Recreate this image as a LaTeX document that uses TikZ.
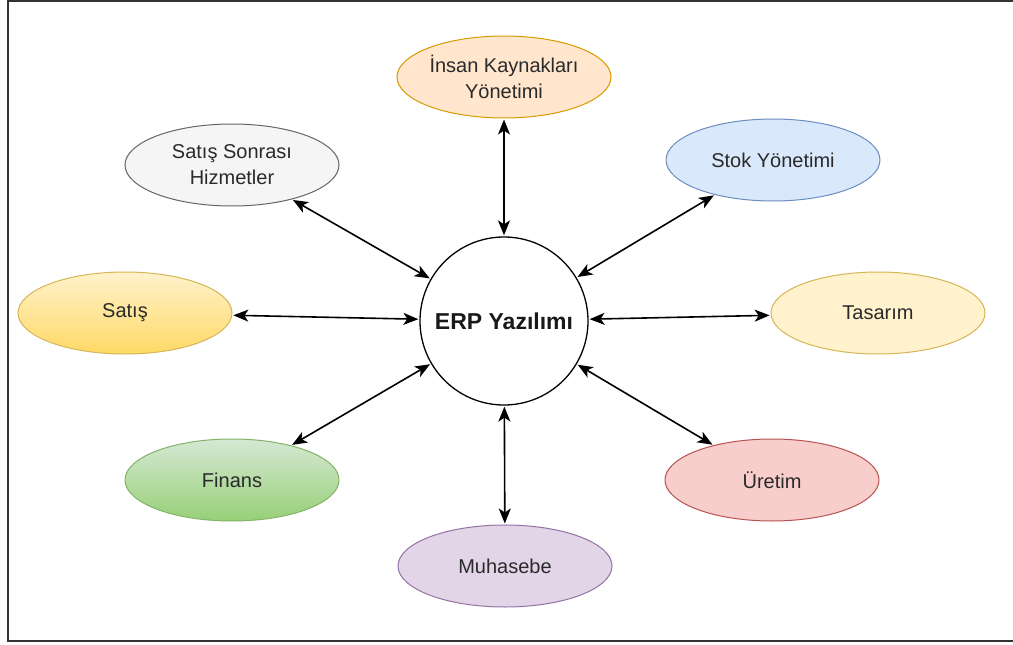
\documentclass[tikz,border=0pt]{standalone}
\usepackage{fontspec}
\setmainfont{Liberation Sans}
\usetikzlibrary{arrows.meta,shapes.geometric}
\definecolor{txt}{HTML}{2A2A2A}
\definecolor{ikF}{HTML}{FFE6CC}\definecolor{ikD}{HTML}{D79B00}
\definecolor{ssF}{HTML}{F5F5F5}\definecolor{ssD}{HTML}{666666}
\definecolor{stF}{HTML}{DAE8FC}\definecolor{stD}{HTML}{6C8EBF}
\definecolor{yeF}{HTML}{FFF2CC}\definecolor{yeB}{HTML}{FFD966}\definecolor{yeD}{HTML}{D6B656}
\definecolor{grF}{HTML}{D5E8D4}\definecolor{grB}{HTML}{97D077}\definecolor{grD}{HTML}{82B366}
\definecolor{reF}{HTML}{F8CECC}\definecolor{reD}{HTML}{B85450}
\definecolor{puF}{HTML}{E1D5E7}\definecolor{puD}{HTML}{9673A6}
\begin{document}
\begin{tikzpicture}[x=1pt,y=-1pt,
  oval/.style={ellipse, draw, line width=1pt, minimum width=214pt, minimum height=82pt, inner sep=0pt,
     align=center, text=txt, font=\fontsize{20}{26}\selectfont},
  link/.style={line width=1.6pt, {Stealth[length=15pt,width=12pt,inset=4pt]}-{Stealth[length=15pt,width=12pt,inset=4pt]}, shorten >=1pt, shorten <=1pt}]
\useasboundingbox (0,0) rectangle (1013,645);
\fill[white] (0,0) rectangle (1013,645);
\draw[line width=2pt, black!80] (1015,1) -- (8,1) -- (8,641) -- (1015,641);

\node[circle, draw, line width=1.3pt, minimum size=168pt, inner sep=0pt, fill=white,
      font=\bfseries\fontsize{23}{28}\selectfont, text=black!90] (erp) at (504,321) {ERP Yazılımı};

\node[oval, fill=ikF, draw=ikD] (ik) at (504,77) {İnsan Kaynakları\\Yönetimi};
\node[oval, fill=ssF, draw=ssD] (ss) at (232,165) {Satış Sonrası\\Hizmetler};
\node[oval, fill=stF, draw=stD] (stok) at (773,160) {Stok Yönetimi};
\node[oval, top color=yeF, bottom color=yeB, draw=yeD] (satis) at (125,313) {Satış};
\node[oval, fill=yeF, draw=yeD] (tas) at (878,313) {Tasarım};
\node[oval, top color=grF, bottom color=grB, draw=grD] (fin) at (232,480) {Finans};
\node[oval, fill=reF, draw=reD] (ure) at (772,480) {Üretim};
\node[oval, fill=puF, draw=puD] (muh) at (505,566) {Muhasebe};

\draw[link] (ik) -- (erp);
\draw[link] (ss) -- (erp);
\draw[link] (stok) -- (erp);
\draw[link] (satis) -- (erp);
\draw[link] (tas) -- (erp);
\draw[link] (fin) -- (erp);
\draw[link] (ure) -- (erp);
\draw[link] (muh) -- (erp);
\end{tikzpicture}
\end{document}
